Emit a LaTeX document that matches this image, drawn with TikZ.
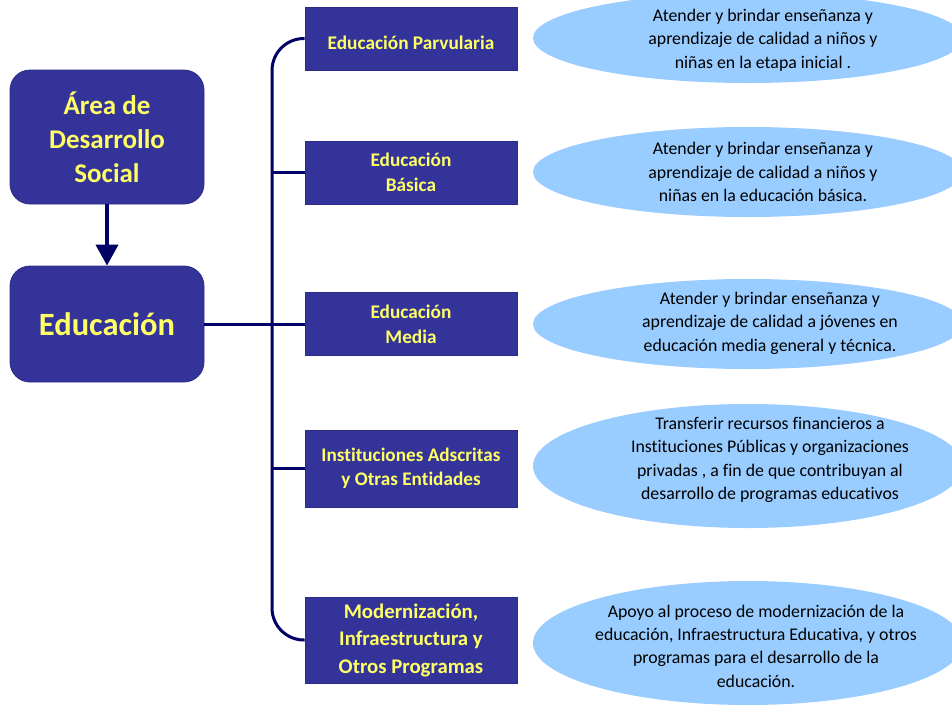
\documentclass[tikz,border=0pt]{standalone}
\usepackage{fontspec}
\setmainfont[Ligatures=NoCommon]{Carlito}
\usetikzlibrary{arrows.meta,shapes.geometric}
\definecolor{boxblue}{HTML}{333399}
\definecolor{boxedge}{HTML}{2B2B85}
\definecolor{txtyellow}{HTML}{FFFF66}
\definecolor{navy}{HTML}{000066}
\definecolor{lightblue}{HTML}{99CCFF}
\tikzset{
  bigbox/.style={fill=boxblue, draw=boxedge, line width=0.8pt, rounded corners=20pt,
    text=txtyellow, font=\bfseries, align=center, inner sep=0pt,
    minimum width=194pt},
  catbox/.style={fill=boxblue, draw=boxedge, line width=0.8pt,
    text=txtyellow, align=center, inner sep=0pt, minimum width=212pt},
  goal/.style={fill=lightblue, draw=none, ellipse, minimum width=430pt},
  goaltext/.style={align=center, font=\fontsize{17.8}{23.4}\selectfont, text=black},
  spine/.style={draw=navy, line width=3pt},
}
\begin{document}
\begin{tikzpicture}[x=1pt,y=-1pt]
\clip (0,0) rectangle (952,704);
\fill[white] (0,0) rectangle (952,704);

% ellipses
\node[goal, minimum height=90pt] (g1) at (748,38) {};
\node[goal, minimum height=90pt] (g2) at (748,172) {};
\node[goal, minimum height=90pt] (g3) at (748,324) {};
\node[goal, minimum height=124pt] (g4) at (748,466) {};
\node[goal, minimum height=124pt] (g5) at (748,643) {};

\node[goaltext] (t1) at (763,40) {Atender y brindar enseñanza y\\aprendizaje de calidad a niños y\\niñas en la etapa inicial .};
\node[goaltext] (t2) at (763,172) {Atender y brindar enseñanza y\\aprendizaje de calidad a niños y\\niñas en la educación básica.};
\node[goaltext] (t3) at (770,323) {Atender y brindar enseñanza y\\aprendizaje de calidad a jóvenes en\\educación media general y técnica.};
\node[goaltext] (t4) at (770,460) {Transferir recursos financieros a\\Instituciones Públicas y organizaciones\\privadas , a fin de que contribuyan al\\desarrollo de programas educativos};
\node[goaltext] (t5) at (756,646) {Apoyo al proceso de modernización de la\\educación, Infraestructura Educativa, y otros\\programas para el desarrollo de la\\educación.};

% left boxes
\node[bigbox, minimum height=134pt, font=\bfseries\fontsize{27}{34}\selectfont] (area) at (107,137) {Área de\\Desarrollo\\Social};
\node[bigbox, minimum height=116pt, font=\bfseries\fontsize{32.5}{36}\selectfont] (edu) at (107,324) {Educación};

% category boxes
\node[catbox, minimum height=63pt, font=\bfseries\fontsize{19.3}{25}\selectfont] (parv) at (411,38.5) {\raisebox{-11pt}[0pt][0pt]{Educación Parvularia}};
\node[catbox, minimum height=63pt, font=\bfseries\fontsize{19.3}{25}\selectfont] (bas) at (411,172.5) {Educación\\Básica};
\node[catbox, minimum height=63pt, font=\bfseries\fontsize{19.3}{25}\selectfont] (media) at (411,324) {Educación\\Media};
\node[catbox, minimum height=77pt, font=\bfseries\fontsize{19.2}{24.5}\selectfont] (inst) at (411,468.5) {Instituciones Adscritas\\y Otras Entidades};
\node[catbox, minimum height=86pt, font=\bfseries\fontsize{20.8}{27.5}\selectfont] (modern) at (411,640) {Modernización,\\Infraestructura y\\Otros Programas};

% connectors
\draw[navy, line width=4pt, -{Triangle[width=22pt,length=21pt]}] (area.south) -- (edu.north);
\coordinate (sp) at (272,0);
\draw[spine, rounded corners=32pt] (parv.west) -| (sp |- modern.west) -- (modern.west);
\draw[spine] (sp |- bas.west) -- (bas.west);
\draw[spine] (sp |- inst.west) -- (inst.west);
\draw[spine] (edu.east) -- (media.west);
\end{tikzpicture}
\end{document}
